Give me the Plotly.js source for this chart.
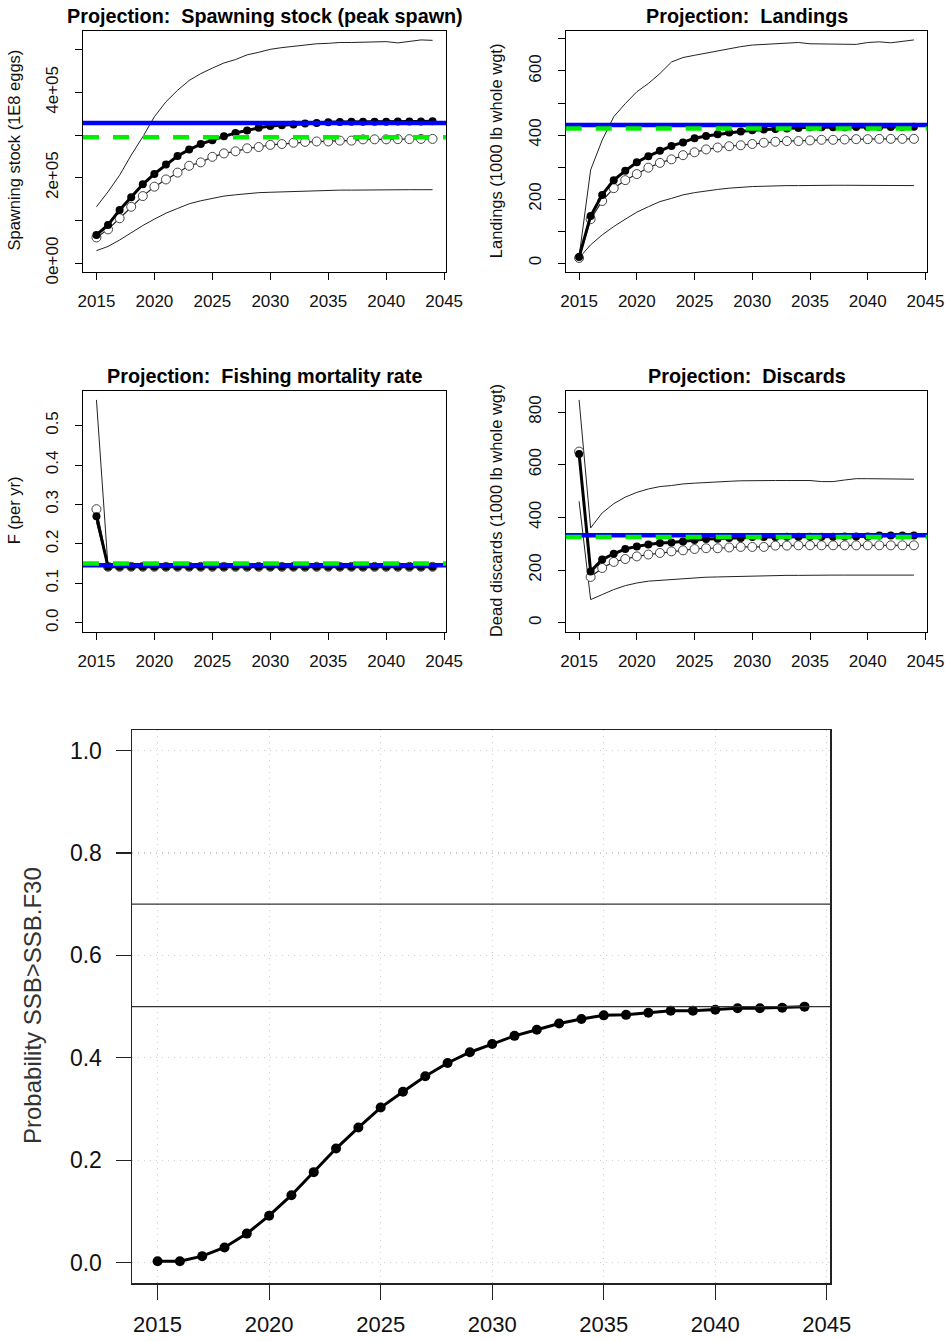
<!DOCTYPE html>
<html>
<head>
<meta charset="utf-8">
<script src="https://cdn.plot.ly/plotly-3.0.1.min.js"></script>
<style>html,body{margin:0;padding:0;background:#fff;}#chart{width:945px;height:1341px;}</style>
</head>
<body>
<div id="chart"></div>
<script>
// ---------------- DATA ----------------
const years = [2015,2016,2017,2018,2019,2020,2021,2022,2023,2024,2025,2026,2027,2028,2029,2030,2031,2032,2033,2034,2035,2036,2037,2038,2039,2040,2041,2042,2043,2044];
const xTicks = [2015,2020,2025,2030,2035,2040,2045];

// Spawning stock (1E8 eggs)
const ssbMed  = [66000,89500,124500,154000,184500,209000,231000,251000,266000,279000,288000,297000,305000,311000,317000,321000,323000,325000,327000,328500,330000,330500,331000,331000,331500,331500,332000,332000,332000,332500];
const ssbMean = [60000,79000,105000,132000,157000,179000,196000,212000,228000,236000,249000,257000,262000,269000,272000,277000,279000,282000,284000,285000,285000,287000,287000,290000,290000,290000,290500,290500,291000,291000];
const ssbHi   = [132000,167000,206000,253000,296000,343000,378000,405000,428000,444000,457000,469000,477000,488000,494000,501000,505000,508000,511000,514000,515000,517000,517000,518000,519000,519000,516000,519000,523000,522000];
const ssbLo   = [29000,39000,54000,72000,88000,103000,117000,128000,139000,146000,152000,157000,160000,163000,165000,166000,167000,168500,169000,170000,171000,171000,171000,171500,171500,172000,172000,172000,172000,172000];
const ssbTickVals = [0,100000,200000,300000,400000,500000];
const ssbTickText = ['0e+00','','2e+05','','4e+05',''];

// Landings (1000 lb whole wgt)
const landMed  = [19,147,213,259,288,315,334,351,366,377,390,397,402,408,411,415,417,419,420,422,424,424,424,424,425,425,425,425,425,426];
const landMean = [16,137,194,234,259,278,298,313,324,337,346,355,361,365,368,372,376,379,381,381,383,385,385,386,387,387,388,388,388,388];
const landHi   = [20,291,384,457,498,535,561,592,628,642,649,656,662,668,676,681,683,685,688,689,685,685,685,684,683,689,691,688,693,697];
const landLo   = [16,57,88,114,137,159,176,192,202,213,220,226,230,234,237,239,240,242,242,242,243,243,243,243,243,243,242,242,242,242];
const landTickVals = [0,100,200,300,400,500,600,700];
const landTickText = ['0','','200','','400','','600',''];

// Fishing mortality rate (per yr)
const fMed  = [0.270,0.142,0.142,0.142,0.142,0.142,0.142,0.142,0.142,0.142,0.142,0.142,0.142,0.142,0.142,0.142,0.142,0.142,0.142,0.142,0.142,0.142,0.142,0.142,0.142,0.142,0.142,0.142,0.142,0.142];
const fMean = [0.288,0.142,0.142,0.142,0.142,0.142,0.142,0.142,0.142,0.142,0.142,0.142,0.142,0.142,0.142,0.142,0.142,0.142,0.142,0.142,0.142,0.142,0.142,0.142,0.142,0.142,0.142,0.142,0.142,0.142];
const fHi   = [0.565,0.142,0.142,0.142,0.142,0.142,0.142,0.142,0.142,0.142,0.142,0.142,0.142,0.142,0.142,0.142,0.142,0.142,0.142,0.142,0.142,0.142,0.142,0.142,0.142,0.142,0.142,0.142,0.142,0.142];
const fLo   = [0.255,0.142,0.142,0.142,0.142,0.142,0.142,0.142,0.142,0.142,0.142,0.142,0.142,0.142,0.142,0.142,0.142,0.142,0.142,0.142,0.142,0.142,0.142,0.142,0.142,0.142,0.142,0.142,0.142,0.142];
const fTickVals = [0,0.1,0.2,0.3,0.4,0.5];
const fTickText = ['0.0','0.1','0.2','0.3','0.4','0.5'];

// Dead discards (1000 lb whole wgt)
const discMed  = [641,195,240,262,280,290,297,303,305,309,314,318,319,322,322,326,326,326,327,327,327,327,327,328,328,328,331,331,331,331];
const discMean = [650,174,208,231,242,252,259,265,271,275,280,283,283,286,288,288,288,293,293,294,294,294,294,294,294,294,294,294,294,294];
const discHi   = [846,360,417,452,477,495,508,517,521,527,530,533,536,537,539,540,541,540,540,540,540,536,536,542,547,547,547,547,547,545];
const discLo   = [461,88,107,126,141,151,158,161,164,168,170,173,174,175,177,179,179,179,180,180,181,181,181,181,181,181,181,181,181,181];
const discTickVals = [0,200,400,600,800];
const discTickText = ['0','200','400','600','800'];

// Reference lines (blue solid, green dashed) per panel: SSB, Landings, F, Discards
const refBlue  = [328500, 431, 0.146, 332];
const refGreen = [295000, 420, 0.150, 326];

// Probability SSB > SSB.F30
const probSSB = [0.003,0.003,0.013,0.030,0.057,0.092,0.132,0.177,0.223,0.264,0.303,0.334,0.364,0.390,0.411,0.427,0.443,0.455,0.467,0.476,0.483,0.484,0.488,0.492,0.492,0.494,0.497,0.497,0.498,0.500];
const probHLines = [0.7, 0.5];
const probTickVals = [0,0.2,0.4,0.6,0.8,1.0];
const probTickText = ['0.0','0.2','0.4','0.6','0.8','1.0'];

const titles = ['Projection:\u00a0 Spawning stock (peak spawn)','Projection:\u00a0 Landings','Projection:\u00a0 Fishing mortality rate','Projection:\u00a0 Discards'];
const yTitles = ['Spawning stock (1E8 eggs)','Landings (1000 lb whole wgt)','F (per yr)','Dead discards (1000 lb whole wgt)'];
const probYTitle = 'Probability SSB>SSB.F30';

// ---------------- BUILD ----------------
const W = 945, H = 1341;
const FONT = 'Liberation Sans, Arial, Helvetica, sans-serif';
const px = v => v / W;
const py = v => 1 - v / H;

const panels = [
  {med: ssbMed, mean: ssbMean, hi: ssbHi, lo: ssbLo, tv: ssbTickVals, tt: ssbTickText, box: [83, 446, 31, 272]},
  {med: landMed, mean: landMean, hi: landHi, lo: landLo, tv: landTickVals, tt: landTickText, box: [565.7, 927.3, 31, 272]},
  {med: fMed, mean: fMean, hi: fHi, lo: fLo, tv: fTickVals, tt: fTickText, box: [83, 446, 391, 631.7]},
  {med: discMed, mean: discMean, hi: discHi, lo: discLo, tv: discTickVals, tt: discTickText, box: [565.7, 927.3, 391, 631.7]}
];

const xmin = Math.min(...years), xmax = Math.max(...years);
const xr = [xmin - 0.04*(xmax-xmin), xmax + 0.04*(xmax-xmin)];

const traces = [];
const layout = {
  width: W, height: H,
  margin: {l:0, r:0, t:0, b:0},
  paper_bgcolor: '#fff', plot_bgcolor: '#fff',
  showlegend: false,
  font: {family: FONT, color: '#111'},
  annotations: [], shapes: []
};

panels.forEach((p, i) => {
  const n = i + 1;
  const xa = 'x' + n, ya = 'y' + n;
  const ymax = Math.max(...p.hi, ...p.med, ...p.mean);
  const yr = [-0.04*ymax, 1.04*ymax];
  layout['xaxis' + n] = {
    domain: [px(p.box[0]), px(p.box[1])], anchor: ya, range: xr,
    tickmode: 'array', tickvals: xTicks, ticks: 'outside', ticklen: 7, tickwidth: 1, tickcolor: '#000',
    showline: true, mirror: true, linecolor: '#000', linewidth: 1,
    showgrid: false, zeroline: false, tickfont: {size: 17, color: '#111'}, ticklabelstandoff: 7
  };
  layout['yaxis' + n] = {
    domain: [py(p.box[3]), py(p.box[2])], anchor: xa, range: yr,
    tickmode: 'array', tickvals: p.tv, ticktext: p.tt, ticks: 'outside', ticklen: 7, tickwidth: 1, tickcolor: '#000',
    tickangle: -90,
    showline: true, mirror: true, linecolor: '#000', linewidth: 1,
    showgrid: false, zeroline: false, tickfont: {size: 17, color: '#111'}, ticklabelstandoff: 10
  };
  // thin upper / lower lines
  traces.push({x: years, y: p.hi, xaxis: xa, yaxis: ya, mode: 'lines', line: {color: '#222', width: 1}, hoverinfo: 'skip'});
  traces.push({x: years, y: p.lo, xaxis: xa, yaxis: ya, mode: 'lines', line: {color: '#222', width: 1}, hoverinfo: 'skip'});
  // open circles series
  traces.push({x: years, y: p.mean, xaxis: xa, yaxis: ya, mode: 'lines+markers',
    line: {color: '#222', width: 1.2},
    marker: {symbol: 'circle', size: 9, color: '#fff', line: {color: '#444', width: 1}}});
  // filled series
  traces.push({x: years, y: p.med, xaxis: xa, yaxis: ya, mode: 'lines+markers',
    line: {color: '#000', width: 3},
    marker: {symbol: 'circle', size: 8, color: '#000'}});
  // reference lines
  layout.shapes.push({type: 'line', xref: xa + ' domain', yref: ya, x0: 0, x1: 1, y0: refBlue[i], y1: refBlue[i], line: {color: '#0000ff', width: 4.5}, layer: 'above'});
  layout.shapes.push({type: 'line', xref: xa + ' domain', yref: ya, x0: 0, x1: 1, y0: refGreen[i], y1: refGreen[i], line: {color: '#00ee00', width: 4.5, dash: '16px,14px'}, layer: 'above'});
  // title
  const cx = (p.box[0] + p.box[1]) / 2;
  layout.annotations.push({text: '<b>' + titles[i] + '</b>', xref: 'paper', yref: 'paper', x: px(cx), y: py(p.box[2] - 15),
    xanchor: 'center', yanchor: 'middle', showarrow: false, font: {size: 19.8, color: '#000', family: FONT}});
  // y title
  const tx = i % 2 === 0 ? 14 : 496.7;
  layout.annotations.push({text: yTitles[i], xref: 'paper', yref: 'paper', x: px(tx), y: py((p.box[2] + p.box[3]) / 2 - 1),
    xanchor: 'center', yanchor: 'middle', textangle: -90, showarrow: false, font: {size: 16.5, color: '#111', family: FONT}});
});

// bottom probability panel
const pb = [131.7, 830.4, 730, 1283.3];
layout.xaxis5 = {
  domain: [px(pb[0]), px(pb[1])], anchor: 'y5', range: xr,
  tickmode: 'array', tickvals: xTicks, ticks: 'outside', ticklen: 15, tickwidth: 1.2, tickcolor: '#222',
  showline: true, mirror: true, linecolor: '#222', linewidth: 1.2,
  showgrid: true, gridcolor: '#cfcfcf', griddash: '1px,5px', gridwidth: 1.2,
  zeroline: false, tickfont: {size: 22, color: '#111'}, ticklabelstandoff: 6
};
layout.yaxis5 = {
  domain: [py(pb[3]), py(pb[2])], anchor: 'x5', range: [-0.04, 1.04],
  tickmode: 'array', tickvals: probTickVals, ticktext: probTickText, ticks: 'outside', ticklen: 15, tickwidth: 1.2, tickcolor: '#222',
  showline: true, mirror: true, linecolor: '#222', linewidth: 1.2,
  showgrid: true, gridcolor: '#cfcfcf', griddash: '1px,5px', gridwidth: 1.2,
  zeroline: false, tickfont: {size: 23, color: '#111'}, ticklabelstandoff: 9
};
probHLines.forEach(v => {
  layout.shapes.push({type: 'line', xref: 'x5 domain', yref: 'y5', x0: 0, x1: 1, y0: v, y1: v, line: {color: '#333', width: 1.3}, layer: 'above'});
});
traces.push({x: years, y: probSSB, xaxis: 'x5', yaxis: 'y5', mode: 'lines+markers',
  line: {color: '#000', width: 3}, marker: {symbol: 'circle', size: 10, color: '#000'}});
layout.annotations.push({text: probYTitle, xref: 'paper', yref: 'paper', x: px(32), y: py(1006),
  xanchor: 'center', yanchor: 'middle', textangle: -90, showarrow: false, font: {size: 24, color: '#333', family: FONT}});

Plotly.newPlot('chart', traces, layout, {staticPlot: true, displayModeBar: false});
</script>
</body>
</html>
